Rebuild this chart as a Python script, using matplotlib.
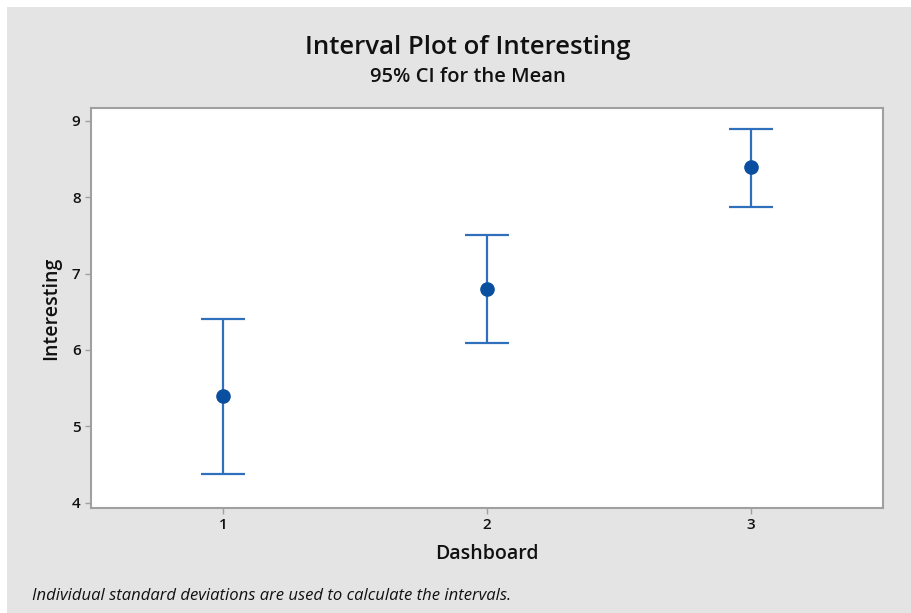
import matplotlib.pyplot as plt
from matplotlib.patches import Rectangle

# Interval plot data: means with 95% CI bounds per dashboard
dashboards = [1, 2, 3]
means = [5.40, 6.80, 8.40]
lower = [4.38, 6.09, 7.87]
upper = [6.40, 7.50, 8.90]

plt.rcParams['font.family'] = ['Open Sans', 'DejaVu Sans']

fig = plt.figure(figsize=(9.12, 6.13), dpi=100)
fig.patch.set_facecolor('white')
# gray panel behind everything (small white margin at top and left)
fig.patches.append(Rectangle((7 / 912, -0.05), 1.1, 1.05 - 7 / 613, transform=fig.transFigure,
                             facecolor='#e4e4e4', edgecolor='none', zorder=-5))

ax = fig.add_axes([91 / 912, 105 / 613, 792 / 912, 400 / 613])
ax.set_zorder(2)
ax.set_facecolor('white')

yerr = [[m - lo for m, lo in zip(means, lower)], [hi - m for m, hi in zip(means, upper)]]
ax.errorbar(dashboards, means, yerr=yerr, fmt='none', ecolor='#2f6fbc',
            elinewidth=1.6, capsize=16, capthick=1.6, zorder=2)
ax.plot(dashboards, means, 'o', color='#0a4f9f', markersize=9.5, zorder=3)

ax.set_xlim(0.5, 3.5)
ax.set_ylim(3.93, 9.17)
ax.set_xticks(dashboards)
ax.set_yticks([4, 5, 6, 7, 8, 9])

for s in ax.spines.values():
    s.set_color('#a0a0a0')
    s.set_linewidth(1.5)

ax.tick_params(axis='both', direction='out', length=4, width=1, color='#a0a0a0',
               labelsize=11, labelcolor='#111111')
for lbl in ax.get_xticklabels() + ax.get_yticklabels():
    lbl.set_fontweight('semibold')

ax.set_xlabel('Dashboard', fontsize=14, fontweight='semibold', labelpad=8, color='#111111')
ax.set_ylabel('Interesting', fontsize=14, fontweight='semibold', labelpad=8, color='#111111')

fig.text(468 / 912, 1 - 47 / 613, 'Interval Plot of Interesting', ha='center', va='center',
         fontsize=18.5, fontweight='semibold', color='#111111')
fig.text(468 / 912, 1 - 77 / 613, '95% CI for the Mean', ha='center', va='center',
         fontsize=14.5, fontweight='semibold', color='#111111')
fig.text(32 / 912, 1 - 596 / 613, 'Individual standard deviations are used to calculate the intervals.',
         ha='left', va='center', fontsize=12, style='italic', color='#111111')

plt.savefig('out.png', dpi=100, facecolor=fig.get_facecolor())
